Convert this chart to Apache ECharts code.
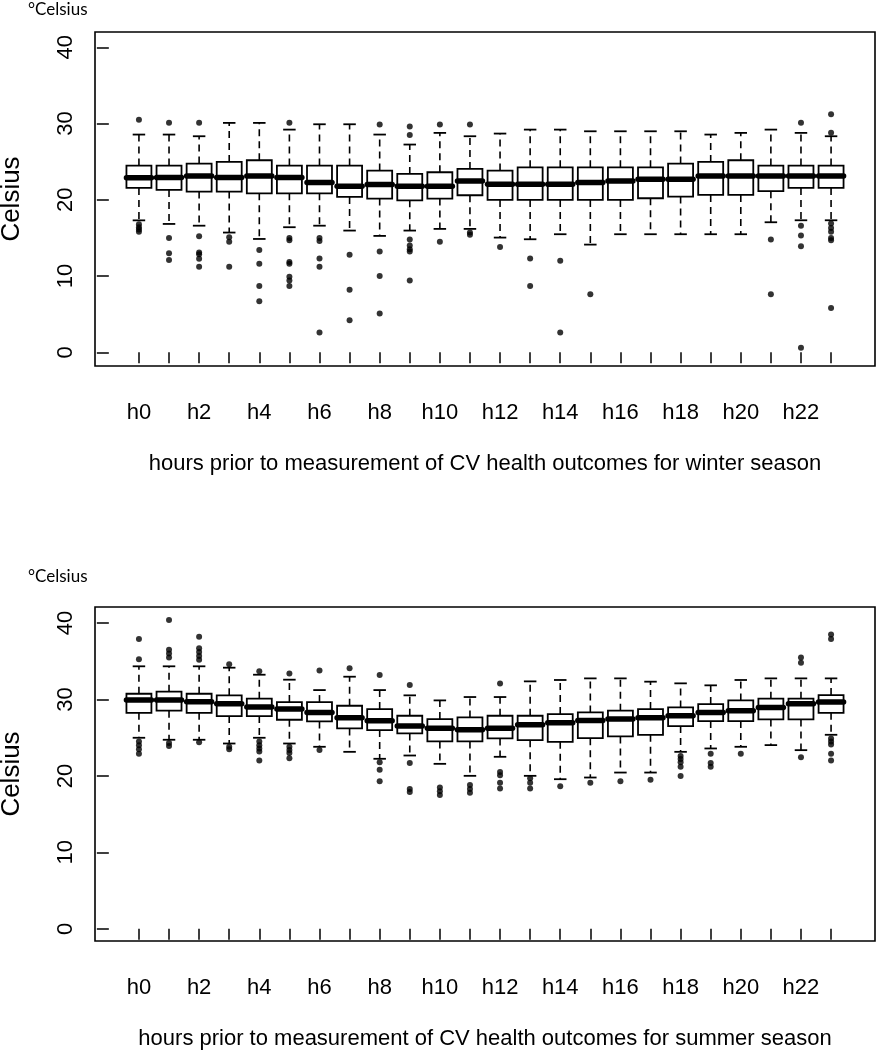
<!DOCTYPE html>
<html>
<head>
<meta charset="utf-8">
<script src="https://cdn.jsdelivr.net/npm/echarts@6/dist/echarts.min.js"></script>
<style>
html,body{margin:0;padding:0;background:#fff;}
#chart{width:876px;height:1050px;}
</style>
</head>
<body>
<div id="chart"></div>
<script>
const hours = ['h0','h1','h2','h3','h4','h5','h6','h7','h8','h9','h10','h11','h12','h13','h14','h15','h16','h17','h18','h19','h20','h21','h22','h23'];
const yTicks = [0, 10, 20, 30, 40];

// Winter season
const winterLow  = [17.3,16.83,16.6,15.7,14.86,16.4,16.6,15.96,15.26,15.96,16.18,16.18,15.04,14.82,15.48,14.12,15.48,15.48,15.48,15.48,15.48,17.05,17.31,17.31];
const winterQ1   = [21.55,21.29,21.07,21.07,20.85,20.85,20.85,20.37,20.15,19.93,20.15,20.59,19.98,19.98,19.98,19.98,19.98,20.2,20.42,20.63,20.63,21.12,21.55,21.55];
const winterMed  = [22.9,22.91,23.13,22.91,23.13,22.91,22.25,21.77,21.99,21.77,21.77,22.47,22.03,22.03,22.03,22.25,22.47,22.69,22.69,23.13,23.13,23.13,23.13,23.13];
const winterQ3   = [24.48,24.48,24.74,24.96,25.18,24.48,24.48,24.48,23.83,23.39,23.61,24.04,23.83,24.26,24.26,24.26,24.26,24.26,24.74,24.96,25.18,24.48,24.48,24.48];
const winterHigh = [28.55,28.55,28.33,30.08,30.08,29.2,29.9,29.9,28.55,27.24,28.77,28.33,28.68,29.2,29.2,28.98,28.98,28.98,28.98,28.55,28.77,29.2,28.77,28.33];
const winterOut  = [
  [30.5,16.8,16.4,16.1,15.8],
  [30.1,15.0,13.0,12.1],
  [30.1,15.2,13.1,12.85,12.25,11.2],
  [15.1,14.5,11.2],
  [13.4,11.6,8.7,6.7],
  [30.1,15.0,14.7,11.85,11.6,9.9,9.4,8.7],
  [15.0,14.6,12.3,11.2,2.6],
  [12.8,8.2,4.2],
  [29.86,13.2,10.0,5.1],
  [29.6,28.5,14.8,14.0,13.5,13.2,9.4],
  [29.86,14.5],
  [29.86,15.7,15.4],
  [13.8],
  [12.3,8.7],
  [12.0,2.6],
  [7.6],
  [],
  [],
  [],
  [],
  [],
  [14.8,7.6],
  [30.1,16.6,15.3,13.9,0.6],
  [31.2,28.8,16.9,16.3,15.8,15.0,14.7,5.8]
];

// Summer season
const summerLow  = [24.99,24.73,24.73,24.24,24.99,24.24,23.81,23.15,22.24,22.67,21.58,20.01,22.5,20.01,19.57,19.79,20.44,20.44,23.15,23.59,23.81,24.03,23.37,25.38];
const summerQ1   = [28.26,28.53,28.26,27.83,27.83,27.35,27.13,26.21,26.0,25.56,24.51,24.51,24.9,24.68,24.46,24.94,25.16,25.38,26.52,27.17,27.17,27.39,27.39,28.26];
const summerMed  = [29.92,29.92,29.7,29.44,29.01,28.74,28.31,27.61,27.22,26.52,26.25,26.04,26.25,26.69,26.95,27.26,27.43,27.61,27.87,28.31,28.53,28.96,29.44,29.66];
const summerQ3   = [30.75,31.02,30.75,30.54,30.1,29.66,29.66,29.18,28.74,27.87,27.43,27.65,27.87,27.87,28.09,28.31,28.53,28.74,28.96,29.4,29.88,30.1,30.1,30.58];
const summerHigh = [34.34,34.34,34.34,34.16,33.24,32.59,31.23,32.98,31.23,30.54,29.88,30.32,30.32,32.37,32.55,32.76,32.76,32.33,32.11,31.85,32.55,32.76,32.76,32.76];
const summerOut  = [
  [37.9,35.25,24.5,24.0,23.5,22.9],
  [40.4,36.5,36.0,35.5,24.3,23.9],
  [38.2,36.7,36.2,35.7,35.2,24.4],
  [34.6,23.8,23.5],
  [33.7,24.5,24.0,23.6,23.2,22.0],
  [33.4,23.8,23.4,23.0,22.3],
  [33.8,23.4],
  [34.1],
  [33.2,21.8,20.8,19.3],
  [31.9,21.7,18.3,17.9],
  [18.5,18.0,17.5],
  [18.8,18.3,17.8],
  [32.1,20.5,20.1,19.1,18.35],
  [19.7,19.1,18.35],
  [18.65],
  [19.1],
  [19.3],
  [19.5],
  [22.6,22.2,21.8,21.2,20.0],
  [22.9,21.7,21.2],
  [22.9],
  [],
  [35.5,34.8,22.45],
  [38.5,37.9,24.9,24.5,24.1,22.9,22.0]
];

const FONT = '"Liberation Sans", Arial, Helvetica, sans-serif';
const positions = hours.map((h, i) => i + 1);
const labelPositions = positions.filter((p, i) => i % 2 === 0);

function boxData(low, q1, med, q3, high) {
  return positions.map((p, i) => [p, low[i], q1[i], med[i], q3[i], high[i]]);
}
function outData(out) {
  const res = [];
  out.forEach((arr, i) => arr.forEach(v => res.push([i + 1, v])));
  return res;
}

function renderBox(params, api) {
  const x = api.value(0);
  const lo = api.value(1), q1 = api.value(2), med = api.value(3), q3 = api.value(4), hi = api.value(5);
  const pLo = api.coord([x, lo]);
  const pQ1 = api.coord([x, q1]);
  const pMed = api.coord([x, med]);
  const pQ3 = api.coord([x, q3]);
  const pHi = api.coord([x, hi]);
  const w = api.size([0.83, 0])[0];
  const half = w / 2;
  const cap = w / 4;
  const cx = pMed[0];
  const dash = { stroke: '#000', lineWidth: 1.6, lineDash: [7, 5] };
  const solid = { stroke: '#000', lineWidth: 1.8 };
  return {
    type: 'group',
    children: [
      { type: 'line', shape: { x1: cx, y1: pQ3[1], x2: cx, y2: pHi[1] }, style: dash },
      { type: 'line', shape: { x1: cx, y1: pQ1[1], x2: cx, y2: pLo[1] }, style: dash },
      { type: 'line', shape: { x1: cx - cap, y1: pHi[1], x2: cx + cap, y2: pHi[1] }, style: solid },
      { type: 'line', shape: { x1: cx - cap, y1: pLo[1], x2: cx + cap, y2: pLo[1] }, style: solid },
      { type: 'rect', shape: { x: cx - half, y: pQ3[1], width: w, height: pQ1[1] - pQ3[1] }, style: { fill: '#fff', stroke: '#000', lineWidth: 1.8 } },
      { type: 'line', shape: { x1: cx - half, y1: pMed[1], x2: cx + half, y2: pMed[1] }, style: { stroke: '#000', lineWidth: 5.5, lineCap: 'round' } }
    ]
  };
}

function xAxis(gridIndex, name) {
  return {
    type: 'value', gridIndex: gridIndex, min: -0.46, max: 25.46,
    name: name, nameLocation: 'middle', nameGap: 87,
    nameTextStyle: { fontFamily: FONT, fontSize: 22, color: '#000' },
    axisLine: { show: false },
    axisTick: { show: true, customValues: positions, length: 11, inside: false, lineStyle: { color: '#000', width: 1.5 } },
    axisLabel: { show: true, customValues: labelPositions, formatter: v => hours[Math.round(v) - 1], margin: 36, fontFamily: FONT, fontSize: 22, color: '#000' },
    splitLine: { show: false }
  };
}
function yAxis(gridIndex, min, max) {
  return {
    type: 'value', gridIndex: gridIndex, min: min, max: max,
    name: 'Celsius', nameLocation: 'middle', nameGap: 70, nameRotate: 90,
    nameTextStyle: { fontFamily: FONT, fontSize: 26, color: '#000' },
    axisLine: { show: false },
    axisTick: { show: true, customValues: yTicks, length: 12, inside: false, lineStyle: { color: '#000', width: 1.5 } },
    axisLabel: { show: true, customValues: yTicks, rotate: 90, margin: 18, fontFamily: FONT, fontSize: 22, color: '#000' },
    splitLine: { show: false }
  };
}

const chart = echarts.init(document.getElementById('chart'), null, { renderer: 'canvas' });
chart.setOption({
  backgroundColor: '#fff',
  animation: false,
  grid: [
    { left: 95, right: 1, top: 32, height: 334, containLabel: false, outerBoundsMode: 'none', show: true, borderColor: '#000', borderWidth: 1.6, backgroundColor: 'transparent' },
    { left: 95, right: 1, top: 607, height: 334, containLabel: false, outerBoundsMode: 'none', show: true, borderColor: '#000', borderWidth: 1.6, backgroundColor: 'transparent' }
  ],
  xAxis: [
    xAxis(0, 'hours prior to measurement of CV health outcomes for winter season'),
    xAxis(1, 'hours prior to measurement of CV health outcomes for summer season')
  ],
  yAxis: [
    yAxis(0, -1.8, 42),
    yAxis(1, -1.6, 42.1)
  ],
  graphic: [
    { type: 'text', left: 28, top: 1, style: { text: '°Celsius', font: '17px Lato, "Open Sans", sans-serif', fill: '#000' } },
    { type: 'text', left: 28, top: 568, style: { text: '°Celsius', font: '17px Lato, "Open Sans", sans-serif', fill: '#000' } }
  ],
  series: [
    { type: 'custom', xAxisIndex: 0, yAxisIndex: 0, renderItem: renderBox, data: boxData(winterLow, winterQ1, winterMed, winterQ3, winterHigh), encode: { x: 0, y: [1, 2, 3, 4, 5] }, z: 2 },
    { type: 'scatter', xAxisIndex: 0, yAxisIndex: 0, data: outData(winterOut), symbol: 'circle', symbolSize: 6, itemStyle: { color: '#000' }, z: 3 },
    { type: 'custom', xAxisIndex: 1, yAxisIndex: 1, renderItem: renderBox, data: boxData(summerLow, summerQ1, summerMed, summerQ3, summerHigh), encode: { x: 0, y: [1, 2, 3, 4, 5] }, z: 2 },
    { type: 'scatter', xAxisIndex: 1, yAxisIndex: 1, data: outData(summerOut), symbol: 'circle', symbolSize: 6, itemStyle: { color: '#000' }, z: 3 }
  ]
});
</script>
</body>
</html>
